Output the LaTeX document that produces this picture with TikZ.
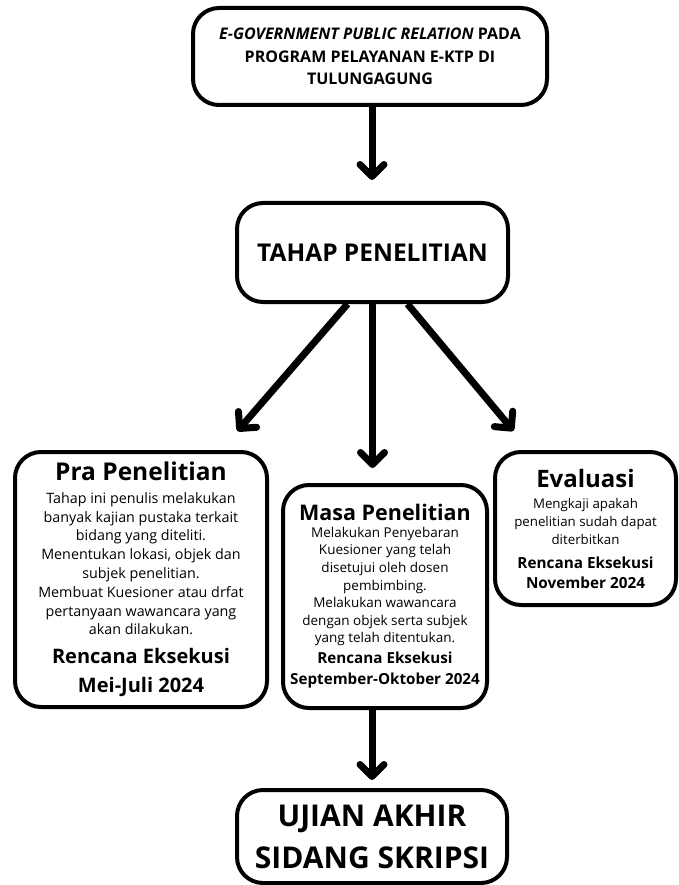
\documentclass[tikz,border=0pt]{standalone}
\usepackage{fontspec}
\setmainfont{Open Sans}
\usetikzlibrary{arrows.meta}
\tikzstyle{block} = [rectangle, rounded corners=26pt, draw=black, line width=4pt,
    fill=white, inner sep=0pt, align=center, text centered]
\tikzstyle{arrow} = [line width=7pt, -{Straight Barb[length=12pt, width=24pt, round]}]
\newcommand{\headfont}[1]{\fontsize{#1}{#1}\selectfont\bfseries\spaceskip=.26em\relax}
\newcommand{\bodyfont}[2]{\fontsize{#1}{#2}\selectfont\spaceskip=.26em\relax}

\begin{document}
\begin{tikzpicture}[x=1pt, y=-1pt]
            \useasboundingbox (0,0) rectangle (678,885);
            \node (judul) [block, minimum width=354pt, minimum height=97pt, text width=350pt] at (370,56.5)
                {\bodyfont{16}{22.5}\bfseries \textit{E-GOVERNMENT PUBLIC RELATION} PADA\\ PROGRAM PELAYANAN E-KTP DI\\ TULUNGAGUNG\par};
            \node (tahap) [block, minimum width=271pt, minimum height=99pt] at (372.5,252.5)
                {\headfont{24.5}TAHAP PENELITIAN};
            \node (pra) [block, minimum width=252pt, minimum height=255pt, text width=248pt] at (141,579.5)
                {{\headfont{24.5}Pra Penelitian\par}\vspace{4pt}
                 \bodyfont{14.3}{18.8}Tahap ini penulis melakukan\\ banyak kajian pustaka terkait\\ bidang yang diteliti.\\
                 Menentukan lokasi, objek dan\\ subjek penelitian.\\ Membuat Kuesioner atau drfat\\
                 pertanyaan wawancara yang\\ akan dilakukan.\par
                 {\bodyfont{20}{29}\bfseries Rencana Eksekusi\\ Mei-Juli 2024\par}};
            \node (masa) [block, minimum width=204pt, minimum height=223pt, text width=202pt] at (385,596.5)
                {{\headfont{21.5}Masa Penelitian\par}\vspace{-1pt}
                 \bodyfont{13.5}{17.6}Melakukan Penyebaran\\ Kuesioner yang telah\\ disetujui oleh dosen\\ pembimbing.\\
                 Melakukan wawancara\\ dengan objek serta subjek\\ yang telah ditentukan.\par
                 {\bodyfont{15.2}{21}\bfseries Rencana Eksekusi\\ September-Oktober 2024\par}};
            \node (evaluasi) [block, minimum width=181pt, minimum height=153pt, text width=179pt] at (585.5,528.5)
                {{\headfont{24}Evaluasi\par}\vspace{3pt}
                 \bodyfont{13.3}{18}Mengkaji apakah\\ penelitian sudah dapat\\ diterbitkan\par
                 {\bodyfont{15.3}{20}\bfseries\vspace{4pt} Rencana Eksekusi\\ November 2024\par}};
            \node (ujian) [block, minimum width=270pt, minimum height=93pt, text width=268pt] at (372,836.5)
                {\bodyfont{30}{42}\bfseries UJIAN AKHIR\\ SIDANG SKRIPSI\par};

            \draw [arrow, shorten >=21pt] ([xshift=2pt]judul.south) -- ([xshift=2pt]judul.south |- tahap.north);
            \draw [arrow, shorten >=25pt] ([xshift=-25pt]tahap.south) -- ([xshift=80pt]pra.north);
            \draw [arrow, shorten >=15pt] (tahap.south) -- (tahap.south |- masa.north);
            \draw [arrow, shorten >=25pt] ([xshift=35pt]tahap.south) -- ([xshift=-56pt]evaluasi.north);
            \draw [arrow, shorten >=8pt] (ujian.north |- masa.south) -- (ujian.north);
        \end{tikzpicture}
\end{document}
